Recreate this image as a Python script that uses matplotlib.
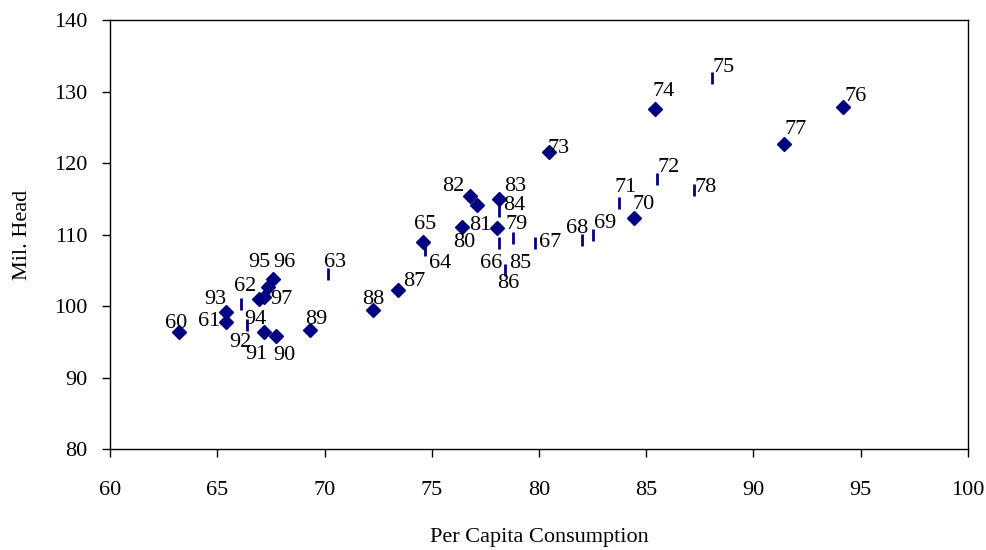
import matplotlib.pyplot as plt

# cattle inventory vs per capita beef consumption, 1960-1997
years = [60, 61, 62, 63, 64, 65, 66, 67, 68, 69,
         70, 71, 72, 73, 74, 75, 76, 77, 78, 79,
         80, 81, 82, 83, 84, 85, 86, 87, 88, 89,
         90, 91, 92, 93, 94, 95, 96, 97]
consumption = [63.22, 65.41, 66.12, 70.15, 74.67, 74.59, 78.12, 79.81, 82.00, 82.54,
               84.41, 83.71, 85.50, 80.48, 85.42, 88.07, 94.17, 91.42, 87.21, 78.02,
               76.39, 77.12, 76.78, 78.15, 78.12, 78.80, 78.43, 73.43, 72.26, 69.30,
               67.74, 67.20, 66.37, 65.41, 66.93, 67.35, 67.58, 67.20]
head = [96.3, 97.8, 100.3, 104.5, 107.8, 109.0, 108.8, 108.8, 109.3, 110.0,
        112.3, 114.4, 117.7, 121.5, 127.6, 131.9, 127.9, 122.7, 116.2, 110.9,
        111.1, 114.1, 115.4, 115.0, 113.3, 109.5, 105.1, 102.2, 99.5, 96.7,
        95.8, 96.4, 97.3, 99.2, 101.0, 102.7, 103.8, 101.3]

# years drawn with a short vertical bar instead of a diamond
bar_years = {62, 63, 64, 66, 67, 68, 69, 71, 72, 75, 78, 84, 85, 86, 92}

# label offsets in pixels (dx, dy), dy positive = up
label_off = {
    60: (-3, 9), 61: (-17, 0), 62: (4, 17), 63: (7, 11), 64: (15, -13),
    65: (2, 17), 66: (-8, -20), 67: (15, 1), 68: (-5, 11), 69: (12, 11),
    70: (10, 14), 71: (7, 16), 72: (12, 12), 73: (9, 4), 74: (8, 17),
    75: (12, 10), 76: (13, 10), 77: (12, 14), 78: (12, 3), 79: (20, 4),
    80: (3, -16), 81: (3, -20), 82: (-17, 9), 83: (16, 12), 84: (16, 5),
    85: (7, -25), 86: (3, -14), 87: (16, 9), 88: (0, 10), 89: (7, 10),
    90: (8, -19), 91: (-8, -23), 92: (-6, -17), 93: (-11, 12), 94: (-3, -21),
    95: (-8, 24), 96: (12, 16), 97: (17, -3),
}

plt.rcParams['font.family'] = ['Liberation Serif', 'DejaVu Serif']
navy = '#000080'
fs = 16

fig = plt.figure(figsize=(9.87, 5.5), dpi=100)
ax = fig.add_axes([0.1115, 0.1836, 0.8692, 0.78])

dx = [c for c, y in zip(consumption, years) if y not in bar_years]
dy = [h for h, y in zip(head, years) if y not in bar_years]
bx = [c for c, y in zip(consumption, years) if y in bar_years]
by = [h for h, y in zip(head, years) if y in bar_years]

ax.plot(dx, dy, linestyle='none', marker='D', markersize=7, color=navy)
ax.plot(bx, by, linestyle='none', marker='|', markersize=8,
        markeredgewidth=2, color=navy)

for y, c, h in zip(years, consumption, head):
    ox, oy = label_off[y]
    ax.annotate(str(y), (c, h), xytext=(ox, oy), textcoords='offset pixels',
                ha='center', va='center', fontsize=fs)

ax.set_xlim(60, 100)
ax.set_ylim(80, 140)
ax.set_xticks(range(60, 101, 5))
ax.set_yticks(range(80, 141, 10))
ax.tick_params(direction='out', length=6, width=1, labelsize=fs)
ax.tick_params(axis='x', pad=17)
ax.tick_params(axis='y', pad=10)
for s in ax.spines.values():
    s.set_linewidth(1)

ax.set_xlabel('Per Capita Consumption', fontsize=fs, labelpad=20)
ax.set_ylabel('Mil. Head', fontsize=fs, labelpad=16)

fig.savefig('out.png', dpi=100)
